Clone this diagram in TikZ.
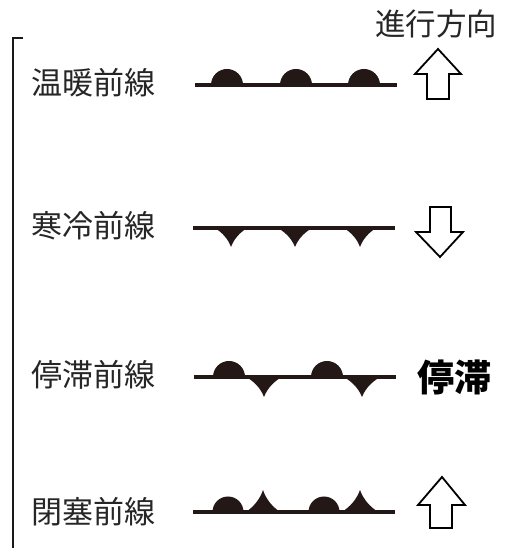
\documentclass[tikz,border=0pt]{standalone}
\usepackage{fontspec}
\newfontfamily\cjk{Noto Sans CJK JP}
\definecolor{frontc}{RGB}{35,24,21}
\tikzset{
  frontline/.style={draw=frontc,line width=3.2pt},
  frontfill/.style={fill=frontc},
  dirarrow/.style={draw=black,line width=1.8pt,fill=white,line join=miter},
  lbl/.style={anchor=west,inner sep=0pt,font=\cjk\fontsize{31}{31}\selectfont,text=black!85},
}
\newcommand{\warmbump}[3]{\fill[frontfill] (#1-#3,#2) arc[start angle=180,end angle=0,radius=#3] -- cycle;}
\newcommand{\coldcusp}[4]{\fill[frontfill] (#1-#3,#2) .. controls (#1-0.55*#3,#2-0.25*#4) and (#1-0.2*#3,#2-0.55*#4) .. (#1,#2-#4) .. controls (#1+0.2*#3,#2-0.55*#4) and (#1+0.55*#3,#2-0.25*#4) .. (#1+#3,#2) -- cycle;}
\newcommand{\peakcusp}[4]{\fill[frontfill] (#1-#3,#2) .. controls (#1-0.55*#3,#2+0.25*#4) and (#1-0.2*#3,#2+0.55*#4) .. (#1,#2+#4) .. controls (#1+0.2*#3,#2+0.55*#4) and (#1+0.55*#3,#2+0.25*#4) .. (#1+#3,#2) -- cycle;}
\begin{document}
\begin{tikzpicture}[x=1pt,y=1pt]
\useasboundingbox (0,0) rectangle (518,548);
% bracket
\coordinate (brtop) at (13,510);
\coordinate (brtick) at (23,510);
\coordinate (brbot) at (13,0);
\draw[line width=1.6pt,black!90] (brtick) -- (brtop) -- (brbot);
% header
\node[anchor=center,inner sep=0pt,font=\cjk\fontsize{30.5}{30.5}\selectfont,text=black!85] (hdr) at (436,524) {進行方向};
% labels
\node[lbl] (warm) at (31,465) {温暖前線};
\node[lbl] (cold) at (31,322) {寒冷前線};
\node[lbl] (stat) at (31,173) {停滞前線};
\node[lbl] (occl) at (31,36) {閉塞前線};
% warm front
\coordinate (w1) at (195,463);
\coordinate (w2) at (397,463);
\warmbump{227}{463}{16}
\warmbump{296}{463}{16}
\warmbump{364}{463}{16}
\draw[frontline] (w1) -- (w2);
% cold front
\coordinate (c1) at (193,320);
\coordinate (c2) at (395,320);
\coldcusp{231}{320}{16}{19}
\coldcusp{295}{320}{17}{19}
\coldcusp{360}{320}{16}{19}
\draw[frontline] (c1) -- (c2);
% stationary front
\coordinate (s1) at (194,171);
\coordinate (s2) at (396,171);
\warmbump{229}{171}{16}
\warmbump{327}{171}{16}
\coldcusp{264}{171}{17.5}{20}
\coldcusp{362}{171}{18}{20}
\draw[frontline] (s1) -- (s2);
% occluded front
\coordinate (o1) at (193,36);
\coordinate (o2) at (395,36);
\warmbump{228}{36}{15.5}
\warmbump{324}{36}{15.5}
\peakcusp{263}{36}{17}{22}
\peakcusp{360}{36}{18}{22}
\draw[frontline] (o1) -- (o2);
% arrows
\draw[dirarrow] (438,499) -- (461,474) -- (449,474) -- (449,449) -- (427,449) -- (427,474) -- (415,474) -- cycle;
\draw[dirarrow] (440,291) -- (463,316) -- (451,316) -- (451,341) -- (430,341) -- (430,316) -- (416,316) -- cycle;
\draw[dirarrow] (442,71) -- (465,43) -- (452,43) -- (452,20) -- (430,20) -- (430,43) -- (418,43) -- cycle;
% stationary label
\node[anchor=center,inner sep=0pt,font=\cjk\bfseries\fontsize{37}{37}\selectfont,text=black] (statlbl) at (454,171) {停滞};
\end{tikzpicture}
\end{document}
